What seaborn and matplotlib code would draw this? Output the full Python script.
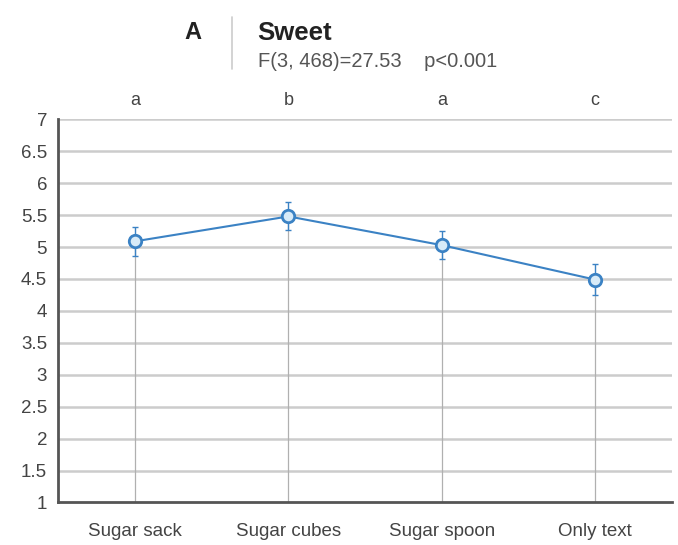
import numpy as np
import pandas as pd
import matplotlib
matplotlib.use("Agg")
import matplotlib.pyplot as plt
import seaborn as sns

# Data
conditions = ["Sugar sack", "Sugar cubes", "Sugar spoon", "Only text"]
means = [5.09, 5.48, 5.03, 4.49]
errors = [0.23, 0.22, 0.22, 0.24]
groups = ["a", "b", "a", "c"]

df = pd.DataFrame({"condition": conditions, "mean": means, "err": errors})

sns.set_style("white")
plt.rcParams["font.family"] = ["Liberation Sans", "DejaVu Sans"]

fig = plt.figure(figsize=(6.78, 5.45), dpi=100)
ax = fig.add_axes([0.086, 0.078, 0.905, 0.703])

x = np.arange(len(conditions))
blue = "#3b82c4"

# grid
ax.set_ylim(1, 7)
ax.set_xlim(-0.5, 3.5)
ax.set_yticks(np.arange(1, 7.01, 0.5))
ax.set_yticklabels(["1", "1.5", "2", "2.5", "3", "3.5", "4", "4.5", "5", "5.5", "6", "6.5", "7"])
for yv in np.arange(1.5, 7.01, 0.5):
    ax.axhline(yv, color="#cccccc", lw=1.8, zorder=0)

# drop lines from points to axis
ax.vlines(x, 1, df["mean"], color="#b0b0b0", lw=0.9, zorder=1)

sns.lineplot(data=df, x="condition", y="mean", ax=ax, color=blue, lw=1.5, sort=False, zorder=3)
ax.errorbar(x, df["mean"], yerr=df["err"], fmt="none", ecolor=blue, elinewidth=1.0,
            capsize=2.5, capthick=1.0, zorder=3)
ax.scatter(x, df["mean"], s=80, facecolor="#d8ebf8", edgecolor=blue, linewidth=2.0, zorder=4)

ax.set_xticks(x)
ax.set_xticklabels(conditions)
ax.set_xlabel("")
ax.set_ylabel("")
ax.tick_params(axis="both", labelsize=13.5, colors="#444444", length=3, width=1.2)
ax.tick_params(axis="x", length=0, pad=15)
ax.tick_params(axis="y", direction="in", pad=8)

for s in ["top", "right"]:
    ax.spines[s].set_visible(False)
for s in ["left", "bottom"]:
    ax.spines[s].set_color("#555555")
    ax.spines[s].set_linewidth(2.0)

# significance group letters
for xi, g in zip(x, groups):
    ax.text(xi, 7.3, g, ha="center", va="center", fontsize=13, color="#444444")

# header
fig.text(0.272, 0.94, "A", fontsize=17, fontweight="bold", ha="left", va="center", color="#222222")
fig.add_artist(plt.Line2D([0.342, 0.342], [0.873, 0.968], color="#cccccc", lw=1.2))
fig.text(0.38, 0.94, "Sweet", fontsize=18.5, fontweight="bold", ha="left", va="center", color="#222222")
fig.text(0.38, 0.888, "F(3, 468)=27.53    p<0.001", fontsize=14.5, ha="left", va="center", color="#555555")

plt.savefig("out.png", dpi=100)
